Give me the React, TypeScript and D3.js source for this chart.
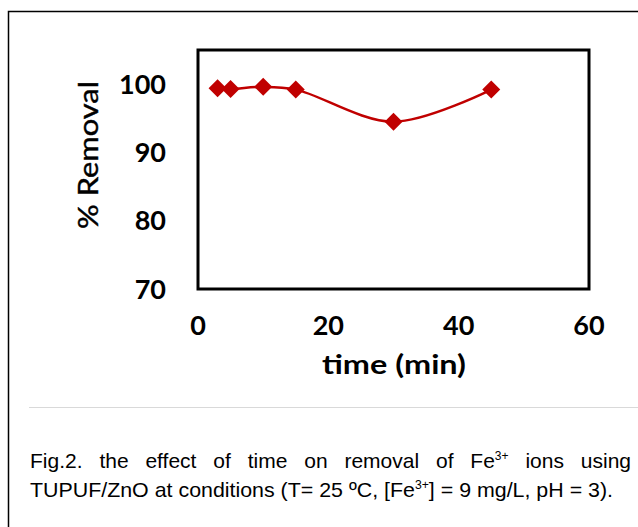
import * as d3 from "d3";
import { useEffect, useRef } from "react";

const times = [3, 5, 10, 15, 30, 45];
const removal = [99.4, 99.3, 99.6, 99.2, 94.5, 99.2];
const xTicks = [0, 20, 40, 60];
const yTicks = [70, 80, 90, 100];

const captionLine1 = ["Fig.2.", "the", "effect", "of", "time", "on", "removal", "of", "Fe|3+", "ions", "using"];

function App() {
  const ref = useRef<SVGSVGElement>(null);

  useEffect(() => {
    if (!ref.current) return;
    const svg = d3.select(ref.current);
    svg.selectAll("*").remove();

    const width = 638;
    const height = 527;

    // outer frame (right and bottom run off the picture)
    svg.append("rect")
      .attr("x", 8.5).attr("y", 11.5)
      .attr("width", width + 20).attr("height", height + 20)
      .attr("fill", "none").attr("stroke", "#000").attr("stroke-width", 1.5);

    const x = d3.scaleLinear().domain([0, 60]).range([198, 589]);
    const y = d3.scaleLinear().domain([70, 105]).range([289, 50]);

    const line = d3.line<number>()
      .x((_, i) => x(times[i]))
      .y(d => y(d))
      .curve(d3.curveCatmullRom.alpha(0.5));

    svg.append("path")
      .datum(removal)
      .attr("d", line)
      .attr("fill", "none")
      .attr("stroke", "#c00000")
      .attr("stroke-width", 2.5);

    svg.append("g")
      .selectAll("path")
      .data(removal)
      .join("path")
      .attr("transform", (d, i) => `translate(${x(times[i])},${y(d)})`)
      .attr("d", "M0,-9L9,0L0,9L-9,0Z")
      .attr("fill", "#c00000");

    // plot box
    svg.append("rect")
      .attr("x", x(0)).attr("y", y(105))
      .attr("width", x(60) - x(0)).attr("height", y(70) - y(105))
      .attr("fill", "none").attr("stroke", "#000").attr("stroke-width", 3);

    const font = "Lato, sans-serif";

    svg.append("g")
      .selectAll("text")
      .data(yTicks)
      .join("text")
      .attr("x", 166)
      .attr("y", d => y(d))
      .attr("dy", "0.36em")
      .attr("text-anchor", "end")
      .attr("font-family", font)
      .attr("font-weight", "bold")
      .attr("font-size", 27)
      .text(d => d);

    svg.append("g")
      .selectAll("text")
      .data(xTicks)
      .join("text")
      .attr("x", d => x(d))
      .attr("y", 325)
      .attr("dy", "0.36em")
      .attr("text-anchor", "middle")
      .attr("font-family", font)
      .attr("font-weight", "bold")
      .attr("font-size", 27)
      .text(d => d);

    svg.append("text")
      .attr("x", 394).attr("y", 365).attr("dy", "0.36em")
      .attr("text-anchor", "middle")
      .attr("font-family", font).attr("font-weight", "bold").attr("font-size", 26)
      .attr("textLength", 144).attr("lengthAdjust", "spacingAndGlyphs")
      .text("time (min)");

    svg.append("text")
      .attr("transform", "translate(89,155) rotate(-90)")
      .attr("dy", "0.36em")
      .attr("text-anchor", "middle")
      .attr("font-family", font).attr("font-size", 26)
      .attr("stroke", "#000").attr("stroke-width", 0.4)
      .attr("textLength", 148).attr("lengthAdjust", "spacingAndGlyphs")
      .text("% Removal");

    // separator
    svg.append("line")
      .attr("x1", 29).attr("x2", width).attr("y1", 407.5).attr("y2", 407.5)
      .attr("stroke", "#d9d9d9").attr("stroke-width", 1);

    // caption, first line justified
    const cap = "Liberation Sans, Arial, sans-serif";
    const capSize = 21;
    const words = svg.append("g")
      .attr("font-family", cap).attr("font-size", capSize).attr("fill", "#000")
      .selectAll("text")
      .data(captionLine1)
      .join("text")
      .attr("y", 468);
    words.each(function (w) {
      const t = d3.select(this);
      const [base, sup] = w.split("|");
      t.append("tspan").text(base);
      if (sup) t.append("tspan").attr("font-size", 12).attr("dy", -8).text(sup);
    });
    const widths: number[] = [];
    words.each(function () { widths.push((this as SVGTextElement).getComputedTextLength()); });
    const left = 30, right = 631;
    const gap = (right - left - d3.sum(widths)) / (widths.length - 1);
    let cx = left;
    words.each(function (_, i) {
      d3.select(this).attr("x", cx);
      cx += widths[i] + gap;
    });

    const l2 = svg.append("text")
      .attr("x", 30).attr("y", 497)
      .attr("font-family", cap).attr("font-size", capSize)
      .attr("textLength", 583).attr("lengthAdjust", "spacingAndGlyphs");
    l2.append("tspan").text("TUPUF/ZnO at conditions (T= 25 ºC, [Fe");
    l2.append("tspan").attr("font-size", 12).attr("dy", -8).text("3+");
    l2.append("tspan").attr("dy", 8).text("] = 9 mg/L, pH = 3).");
  }, []);

  return (
    <svg ref={ref} width={638} height={527}
      style={{ position: "absolute", left: 0, top: 0, background: "#fff" }} />
  );
}

export default App;
